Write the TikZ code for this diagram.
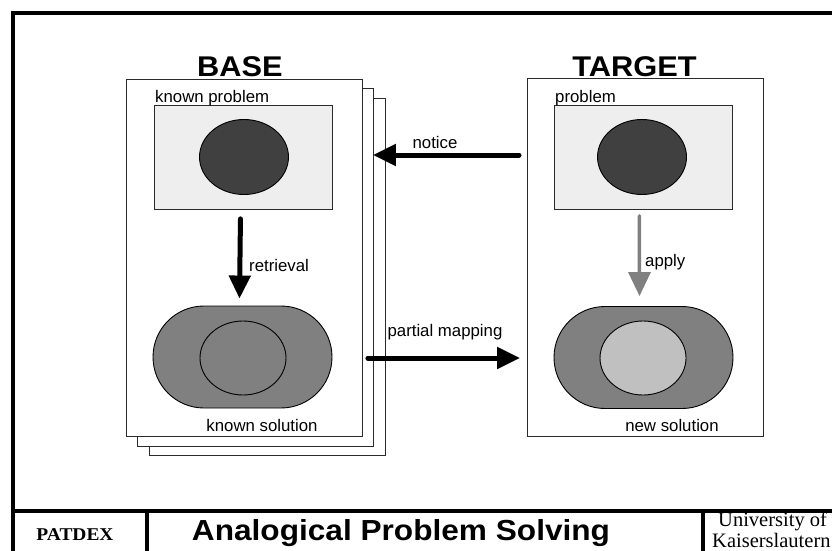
\documentclass[tikz,border=0pt]{standalone}
\usepackage{fontspec}
\newfontfamily\lsans{Liberation Sans}
\newfontfamily\lserif{Liberation Serif}
\usetikzlibrary{arrows.meta,calc,shapes.geometric,shapes.misc}
\definecolor{lightbox}{HTML}{EEEEEE}
\definecolor{darkfill}{HTML}{404040}
\definecolor{midfill}{HTML}{808080}
\definecolor{palefill}{HTML}{C0C0C0}
\definecolor{edgegray}{HTML}{2A2A2A}
\definecolor{arrowgray}{HTML}{808080}
\tikzset{
  card/.style={draw=edgegray,line width=0.9pt,fill=white,inner sep=0pt,anchor=north west},
  probbox/.style={draw=edgegray,line width=0.9pt,fill=lightbox,inner sep=0pt,anchor=north west,minimum width=178pt,minimum height=104pt},
  blob/.style={ellipse,draw=black,line width=0.9pt,fill=darkfill,inner sep=0pt,minimum width=89pt,minimum height=75pt},
  stadium/.style={rounded rectangle,draw=black,line width=0.9pt,fill=midfill,inner sep=0pt,minimum width=179pt,minimum height=102pt},
  core/.style={ellipse,draw=black,line width=0.9pt,inner sep=0pt,minimum width=86pt,minimum height=74pt},
  lbl/.style={font=\lsans\fontsize{16.8}{19}\selectfont,inner sep=0pt},
  hdr/.style={font=\lsans\bfseries\fontsize{28.5}{32}\selectfont,inner sep=0pt,anchor=base},
  bigarrow/.style={line width=5pt,line cap=round,-{Triangle[length=23pt,width=21pt]}},
  grayarrow/.style={line width=3.5pt,draw=arrowgray,line cap=round,-{Triangle[length=24pt,width=22pt]}},
  frameline/.style={line width=4pt,line join=miter},
  unitext/.style={font=\lserif\fontsize{20.5}{22}\selectfont,inner sep=0pt,anchor=base west},
}
\begin{document}
\begin{tikzpicture}[x=1pt,y=-1pt]
\useasboundingbox[fill=white] (0,0) rectangle (832,551);

% headers
\node[hdr] (basehdr) at (240,76.5) {\scalebox{1.08}[1]{BASE}};
\node[hdr] (targethdr) at (634.5,76.5) {\scalebox{1.08}[1]{TARGET}};

% base stack of cards
\node[card,minimum width=236pt,minimum height=357pt] (c3) at (149,98) {};
\node[card,minimum width=236pt,minimum height=358pt] (c2) at (137,88) {};
\node[card,minimum width=236pt,minimum height=357pt] (c1) at (126,79) {};

% target card
\node[card,minimum width=236pt,minimum height=358pt] (tc) at (527,78) {};

% problem boxes
\node[probbox] (kp) at (154,105) {};
\node[blob] (ke) at (244,157) {};
\node[probbox] (tp) at (554,105) {};
\node[blob] (te) at (642,157) {};

% solutions
\node[stadium] (ks) at (242.5,357) {};
\node[core,fill=midfill] (ki) at (243,358) {};
\node[stadium] (ns) at (643.5,357.5) {};
\node[core,fill=palefill] (ni) at (643,358) {};

% labels inside cards
\node[lbl,anchor=base west] (kptxt) at (155,102) {known problem};
\node[lbl,anchor=base west] (tptxt) at (555,102) {problem};
\node[lbl] (kstxt) at (262,425) {known solution};
\node[lbl] (nstxt) at (672,425) {new solution};

% arrows
\draw[bigarrow] ([xshift=-3pt,yshift=-9pt]kp.south) -- ([xshift=-3pt,yshift=7pt]ks.north);
\node[lbl,anchor=west] (rettxt) at (249,265) {retrieval};
\draw[grayarrow] ([xshift=-4pt,yshift=-6pt]tp.south) -- ([xshift=-4pt,yshift=10pt]ns.north);
\node[lbl,anchor=west] (apptxt) at (645,262) {apply};
\draw[bigarrow] ([xshift=-8pt,yshift=2pt]tc.west |- te.center) -- ([xshift=-13pt,yshift=2pt]c3.east |- te.center);
\node[lbl] (nottxt) at (435,142) {notice};
\draw[bigarrow] ([xshift=5pt]c1.east |- ki.center) -- ([xshift=-7pt]tc.west |- ki.center);
\node[lbl] (pmtxt) at (445,332) {partial mapping};

% footer texts
\node[font=\lserif\bfseries\fontsize{18}{20}\selectfont,inner sep=0pt,anchor=base] (patdex) at (75,540) {\scalebox{1.08}[1]{PATDEX}};
\node[font=\lsans\bfseries\fontsize{29}{32}\selectfont,inner sep=0pt,anchor=base] (title) at (401,540) {\scalebox{1.09}[1]{Analogical Problem Solving}};
\node[unitext] (uni1) at (718,526) {University of};
\node[unitext] (uni2) at (712,547) {Kaiserslautern};

% frame
\draw[frameline] (840,13) -- (13,13) -- (13,560);
\draw[frameline] (13,510.5) -- (840,510.5);
\draw[frameline] (147,510.5) -- (147,560);
\draw[frameline] (703,510.5) -- (703,560);
\end{tikzpicture}
\end{document}
